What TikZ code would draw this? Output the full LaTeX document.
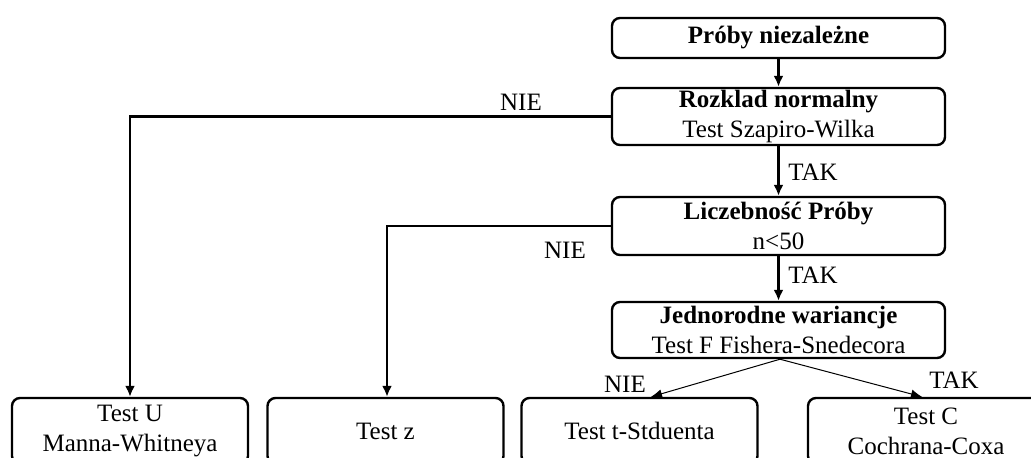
\documentclass[tikz,border=0pt]{standalone}
\usepackage{fontspec}
\setmainfont{Liberation Serif}
\usepackage{tikz}
\usetikzlibrary{arrows.meta}

\begin{document}
\begin{tikzpicture}
  [x=0.5pt,y=-0.5pt,
   every node/.style={font=\fontsize{12.5pt}{15pt}\selectfont, inner sep=0pt},
   box/.style={draw, rounded corners=4pt, line width=1.2pt, align=center,
     minimum width=166.5pt},
   endbox/.style={draw, rounded corners=4pt, line width=1.2pt, align=center,
     minimum width=118pt, minimum height=33pt},
   arr/.style={line width=1.1pt, -{Latex[length=5.5pt,width=5pt]}},
   thinarr/.style={line width=0.5pt, -{Latex[length=5.5pt,width=4.5pt]}}]
  \useasboundingbox (0,0) rectangle (1031,457);

  \node[box, minimum height=20pt, font=\fontsize{12.5pt}{15pt}\selectfont\bfseries] (proby) at (778.5,38) {Próby niezależne};
  \node[box, minimum height=28.5pt] (rozklad) at (778.5,116.5) {\textbf{Rozklad normalny}\\Test Szapiro-Wilka};
  \node[box, minimum height=29pt] (liczebnosc) at (778.5,226) {\textbf{Liczebność Próby}\\n<50};
  \node[box, minimum height=28pt] (jednorodne) at (778.5,330) {\textbf{Jednorodne wariancje}\\Test F Fishera-Snedecora};

  \node[endbox] (testu) at (130,431) {Test U\\Manna-Whitneya};
  \node[endbox] (testz) at (385.5,431) {Test z};
  \node[endbox] (tstud) at (639.5,431) {Test t-Stduenta};
  \node[endbox] (testc) at (926,431) {Test C\\Cochrana-Coxa};

  % etykiety
  \node (nie1) at (521,102) {NIE};
  \node (nie2) at (565,250) {NIE};
  \node (nie3) at (625,384) {NIE};
  \node (tak1) at (813,172) {TAK};
  \node (tak2) at (813,275) {TAK};
  \node (tak3) at (954,380) {TAK};

  \foreach \from/\to in {proby/rozklad, rozklad/liczebnosc, liczebnosc/jednorodne}
      \draw[arr] (\from) -- (\to);
  \draw[arr] (rozklad.west) -| (testu.north);
  \draw[arr] (liczebnosc.west) -| ([xshift=0.75pt]testz.north);
  \draw[thinarr] ([xshift=0.75pt]jednorodne.south) -- ([xshift=5.75pt]tstud.north);
  \draw[thinarr] ([xshift=0.75pt]jednorodne.south) -- ([xshift=-2pt]testc.north);
\end{tikzpicture}
\end{document}
